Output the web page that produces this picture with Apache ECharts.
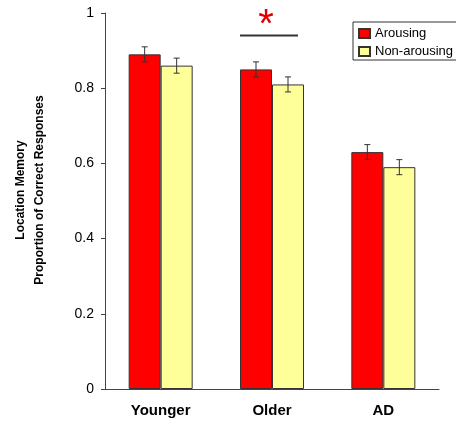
<!DOCTYPE html>
<html>
<head>
<meta charset="utf-8">
<script src="https://cdn.jsdelivr.net/npm/echarts@6/dist/echarts.min.js"></script>
<style>html,body{margin:0;padding:0;background:#fff}#c{width:456px;height:423px}</style>
</head>
<body>
<div id="c"></div>
<script>
const categories = ['Younger', 'Older', 'AD'];
const seriesNames = ['Arousing', 'Non-arousing'];
const arousing = [0.89, 0.85, 0.63];
const nonArousing = [0.86, 0.81, 0.59];
const arousingErr = [0.02, 0.02, 0.02];
const nonArousingErr = [0.02, 0.02, 0.02];
const sigCategory = 1;
const sigLineValue = 0.94;
const sigMarkValue = 0.966;

const BAR_W = 32;
const chart = echarts.init(document.getElementById('c'), null, {renderer: 'canvas'});

function errorSeries(vals, errs, dir) {
  return {
    type: 'custom',
    z: 5,
    silent: true,
    data: vals.map((v, i) => [i, v, errs[i]]),
    renderItem: function (params, api) {
      const i = api.value(0), v = api.value(1), e = api.value(2);
      const top = api.coord([i, v + e]);
      const bot = api.coord([i, v - e]);
      const x = top[0] + dir * BAR_W / 2;
      const cap = 3;
      const st = {stroke: '#333', lineWidth: 1};
      return {type: 'group', children: [
        {type: 'line', shape: {x1: x, y1: top[1], x2: x, y2: bot[1]}, style: st},
        {type: 'line', shape: {x1: x - cap, y1: top[1], x2: x + cap, y2: top[1]}, style: st},
        {type: 'line', shape: {x1: x - cap, y1: bot[1], x2: x + cap, y2: bot[1]}, style: st}
      ]};
    }
  };
}

const option = {
  animation: false,
  grid: {left: 105, right: 17, top: 13, bottom: 34, containLabel: false},
  legend: {
    orient: 'vertical',
    left: 353, top: 22,
    data: seriesNames,
    itemWidth: 11, itemHeight: 9,
    itemGap: 5,
    padding: [5, 20, 2, 5],
    borderColor: '#333', borderWidth: 1,
    textStyle: {fontFamily: 'Liberation Sans', fontSize: 13, color: '#000', padding: [0, 0, 0, 0]},
    icon: 'rect'
  },
  xAxis: {
    type: 'category',
    data: categories,
    axisLine: {lineStyle: {color: '#444', width: 1}},
    axisTick: {length: 5, lineStyle: {color: '#444'}},
    axisLabel: {fontFamily: 'Liberation Sans', fontWeight: 'bold', fontSize: 15, color: '#000', margin: 14}
  },
  yAxis: {
    type: 'value',
    min: 0, max: 1, interval: 0.2,
    name: 'Location Memory\nProportion of Correct Responses',
    nameLocation: 'middle',
    nameRotate: 90,
    nameGap: 56,
    nameTextStyle: {fontFamily: 'Liberation Sans', fontWeight: 'bold', fontSize: 12, color: '#000', lineHeight: 19, padding: [0, 0, 0, 22]},
    axisLine: {show: true, lineStyle: {color: '#444', width: 1}},
    axisTick: {show: true, length: 4, lineStyle: {color: '#444'}},
    splitLine: {show: false},
    axisLabel: {fontFamily: 'Liberation Sans', fontSize: 14, color: '#000', margin: 11,
      formatter: v => String(Math.round(v * 10) / 10)}
  },
  series: [
    {name: seriesNames[0], type: 'bar', data: arousing, barWidth: BAR_W, barGap: '0%',
      itemStyle: {color: '#FF0000', borderColor: '#333', borderWidth: 1}},
    {name: seriesNames[1], type: 'bar', data: nonArousing, barWidth: BAR_W, barGap: '0%',
      itemStyle: {color: '#FFFF99', borderColor: '#333', borderWidth: 1}},
    errorSeries(arousing, arousingErr, -1),
    errorSeries(nonArousing, nonArousingErr, 1),
    {
      type: 'custom', z: 6, silent: true,
      data: [[sigCategory, sigLineValue, sigMarkValue]],
      renderItem: function (params, api) {
        const p = api.coord([api.value(0), api.value(1)]);
        const m = api.coord([api.value(0), api.value(2)]);
        return {type: 'group', children: [
          {type: 'line', shape: {x1: p[0] - BAR_W, y1: p[1], x2: p[0] + BAR_W - 6, y2: p[1]},
            style: {stroke: '#333', lineWidth: 2}},
          {type: 'text', x: p[0] - 6, y: m[1],
            style: {text: '*', fill: '#E00000', font: '40px "Liberation Sans"', align: 'center', verticalAlign: 'middle'}}
        ]};
      }
    }
  ]
};
chart.setOption(option);
</script>
</body>
</html>
